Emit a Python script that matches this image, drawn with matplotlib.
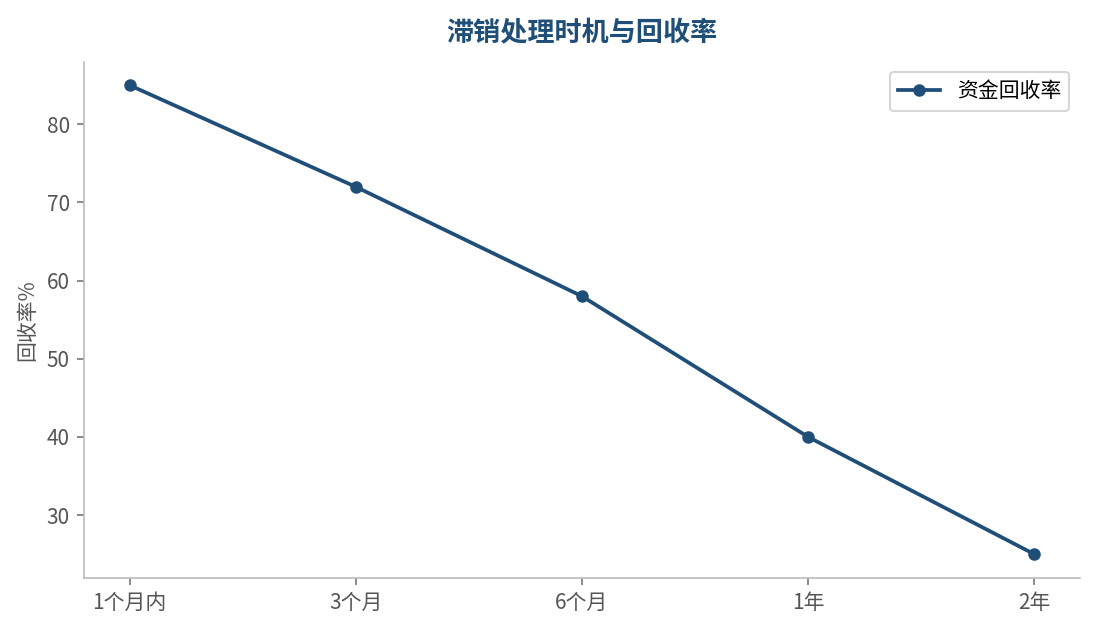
import matplotlib
matplotlib.use("Agg")
import matplotlib.pyplot as plt

plt.rcParams['font.family'] = ['Noto Sans CJK SC', 'DejaVu Sans']

categories = ["1个月内", "3个月", "6个月", "1年", "2年"]
recovery = [85, 72, 58, 40, 25]

color = "#1f4e79"
fig, ax = plt.subplots(figsize=(7.3, 4.2), dpi=150)
fig.subplots_adjust(left=0.077, right=0.986, top=0.902, bottom=0.083)

ax.plot(range(len(categories)), recovery, marker="o", color=color, linewidth=1.8,
        markersize=5, label="资金回收率")
ax.set_xticks(range(len(categories)))
ax.set_xticklabels(categories)
ax.set_ylabel("回收率%", fontsize=10, color="#555555")
ax.set_title("滞销处理时机与回收率", fontsize=13, fontweight="bold", color=color, pad=10)

for s in ["top", "right"]:
    ax.spines[s].set_visible(False)
for s in ["left", "bottom"]:
    ax.spines[s].set_color("#bbbbbb")
ax.tick_params(colors="#555555", labelsize=10)
ax.tick_params(axis="both", color="#777777")
leg = ax.legend(loc="upper right", fontsize=10, frameon=True)
leg.get_frame().set_edgecolor("#cccccc")

fig.savefig("out.png", dpi=150)
